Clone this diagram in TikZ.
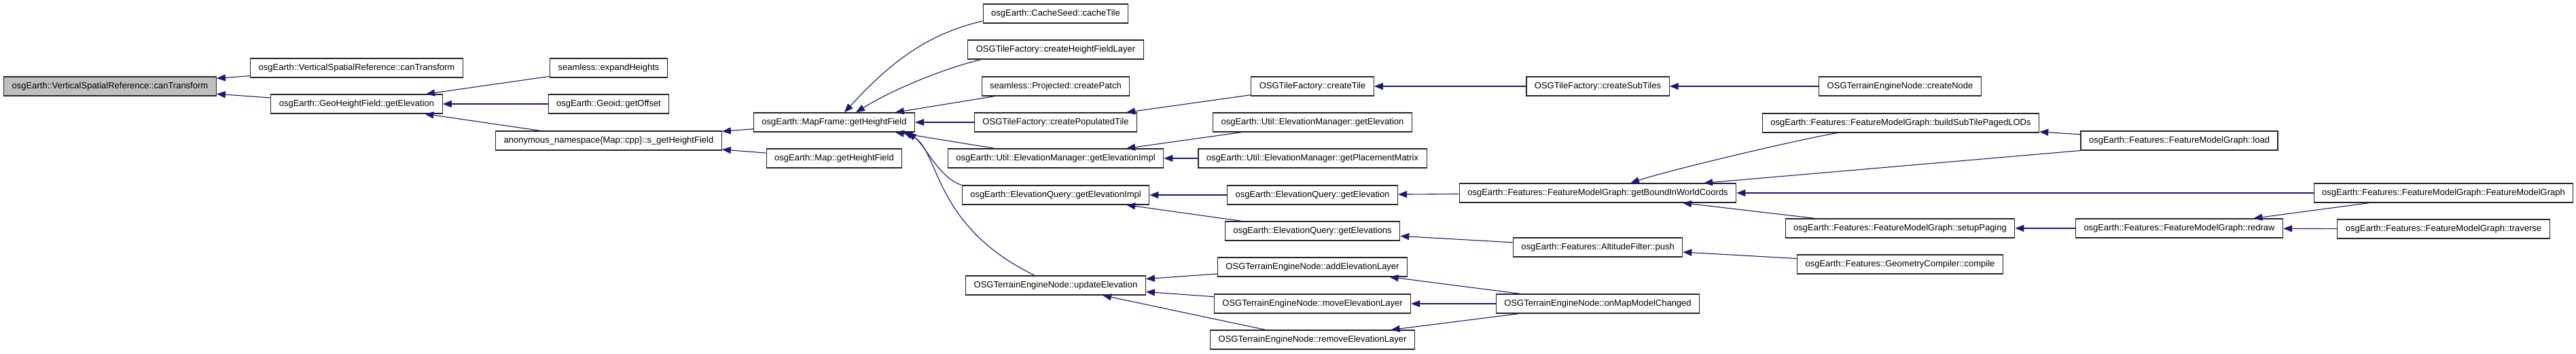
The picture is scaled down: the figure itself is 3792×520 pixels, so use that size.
\documentclass[tikz,border=0pt]{standalone}
\usepackage{xcolor}
\usepackage{fontspec}
\usepackage{tikz}
\usetikzlibrary{arrows.meta, positioning}
\setmainfont{Liberation Sans}
\definecolor{callblue}{RGB}{25,25,112}
\definecolor{rootgray}{RGB}{191,191,191}

\begin{document}
\begin{tikzpicture}[
    x=1pt, y=1pt,
    font=\fontsize{13}{15}\selectfont,
    fn/.style={rectangle, draw=black!85, line width=1.2pt, fill=white,
        minimum height=28pt, inner xsep=12pt, inner ysep=0pt},
    rootfn/.style={fn, fill=rootgray},
    call/.style={{Triangle[length=13pt,width=10pt]}-, draw=callblue, line width=1.1pt}
]
\useasboundingbox (0,0) rectangle (3792,-520);

% === CALLEE ===
\node[rootfn] (root) at (162,-127) {osgEarth::VerticalSpatialReference::canTransform};

% === DIRECT CALLERS ===
\node[fn] (vsrcan) at (525,-100) {osgEarth::VerticalSpatialReference::canTransform};
\node[fn] (geoelev) at (525,-153) {osgEarth::GeoHeightField::getElevation};

\node[fn] (expandh) at (896,-100) {seamless::expandHeights};
\node[fn] (geoidoff) at (896,-153) {osgEarth::Geoid::getOffset};
\node[fn] (anonhf) at (896,-207) {anonymous\_namespace\{Map::cpp\}::s\_getHeightField};

\node[fn] (mfhf) at (1228,-180) {osgEarth::MapFrame::getHeightField};
\node[fn] (maphf) at (1228,-233) {osgEarth::Map::getHeightField};

% === CALLERS OF MapFrame::getHeightField ===
\node[fn] (cachetile) at (1554,-20) {osgEarth::CacheSeed::cacheTile};
\node[fn] (hflayer) at (1554,-73) {OSGTileFactory::createHeightFieldLayer};
\node[fn] (projpatch) at (1554,-127) {seamless::Projected::createPatch};
\node[fn] (poptile) at (1554,-180) {OSGTileFactory::createPopulatedTile};
\node[fn] (emimpl) at (1554,-233) {osgEarth::Util::ElevationManager::getElevationImpl};
\node[fn] (eqimpl) at (1554,-287) {osgEarth::ElevationQuery::getElevationImpl};
\node[fn] (updelev) at (1554,-420) {OSGTerrainEngineNode::updateElevation};

\node[fn] (createtile) at (1932,-127) {OSGTileFactory::createTile};
\node[fn] (emelev) at (1932,-180) {osgEarth::Util::ElevationManager::getElevation};
\node[fn] (emplace) at (1932,-233) {osgEarth::Util::ElevationManager::getPlacementMatrix};
\node[fn] (eqelev) at (1932,-287) {osgEarth::ElevationQuery::getElevation};
\node[fn] (eqelevs) at (1932,-340) {osgEarth::ElevationQuery::getElevations};
\node[fn] (addlayer) at (1932,-393) {OSGTerrainEngineNode::addElevationLayer};
\node[fn] (movelayer) at (1932,-447) {OSGTerrainEngineNode::moveElevationLayer};
\node[fn] (remlayer) at (1932,-500) {OSGTerrainEngineNode::removeElevationLayer};

% === FEATURES / TERRAIN ===
\node[fn] (subtiles) at (2352,-127) {OSGTileFactory::createSubTiles};
\node[fn] (boundwc) at (2352,-284) {osgEarth::Features::FeatureModelGraph::getBoundInWorldCoords};
\node[fn] (altpush) at (2352,-364) {osgEarth::Features::AltitudeFilter::push};
\node[fn] (mapmodel) at (2352,-447) {OSGTerrainEngineNode::onMapModelChanged};

\node[fn] (createnode) at (2797,-127) {OSGTerrainEngineNode::createNode};
\node[fn] (buildlods) at (2798,-181) {osgEarth::Features::FeatureModelGraph::buildSubTilePagedLODs};
\node[fn] (setuppaging) at (2797,-336) {osgEarth::Features::FeatureModelGraph::setupPaging};
\node[fn] (gcompile) at (2797,-389) {osgEarth::Features::GeometryCompiler::compile};

\node[fn] (fmgload) at (3208,-207) {osgEarth::Features::FeatureModelGraph::load};
\node[fn] (fmgredraw) at (3208,-336) {osgEarth::Features::FeatureModelGraph::redraw};

\node[fn] (fmgctor) at (3597,-284) {osgEarth::Features::FeatureModelGraph::FeatureModelGraph};
\node[fn] (fmgtrav) at (3597,-337) {osgEarth::Features::FeatureModelGraph::traverse};

% Calls
\draw[call] (root) -- (vsrcan);
\draw[call] (root) -- (geoelev);
\draw[call] (geoelev) -- (expandh);
\draw[call] (geoelev) -- (geoidoff);
\draw[call] (geoelev) -- (anonhf);
\draw[call] (anonhf) -- (mfhf);
\draw[call] (anonhf) -- (maphf);
\draw[call] ([xshift=15pt]mfhf.north) .. controls +(61,66) and +(-88,-20) .. ([yshift=-11pt]cachetile.west);
\draw[call] ([xshift=32pt]mfhf.north) .. controls +(51,32) and +(-58,-14) .. ([xshift=20pt]hflayer.south west);
\draw[call] (mfhf) -- (projpatch);
\draw[call] (mfhf) -- (poptile);
\draw[call] (mfhf) -- (emimpl);
\draw[call] ([xshift=108pt]mfhf.south) .. controls +(25,-18) and +(-33,10) .. (eqimpl.north west);
\draw[call] ([xshift=102pt]mfhf.south) .. controls +(55,-24) and +(-155,76) .. ([xshift=-31pt]updelev.north);
\draw[call] (poptile) -- (createtile);
\draw[call] (createtile) -- (subtiles);
\draw[call] (subtiles) -- (createnode);
\draw[call] (emimpl) -- (emelev);
\draw[call] (emimpl) -- (emplace);
\draw[call] (eqimpl) -- (eqelev);
\draw[call] (eqimpl) -- (eqelevs);
\draw[call] (updelev) -- (addlayer);
\draw[call] (updelev) -- (movelayer);
\draw[call] (updelev) -- (remlayer);
\draw[call] (eqelev) -- (boundwc);
\draw[call] (eqelevs) -- (altpush);
\draw[call] (addlayer) -- (mapmodel);
\draw[call] (movelayer) -- (mapmodel);
\draw[call] (remlayer) -- (mapmodel);
\draw[call] ([xshift=48pt]boundwc.north) .. controls +(57,19) and +(-59,-10) .. ([xshift=-93pt]buildlods.south);
\draw[call] ([xshift=156pt]boundwc.north) -- (fmgload.south west);
\draw[call] (boundwc) -- (fmgctor);
\draw[call] (boundwc) -- (setuppaging);
\draw[call] (altpush) -- (gcompile);
\draw[call] (buildlods) -- (fmgload);
\draw[call] (setuppaging) -- (fmgredraw);
\draw[call] (fmgredraw) -- (fmgctor);
\draw[call] (fmgredraw) -- (fmgtrav);

\end{tikzpicture}
\end{document}
